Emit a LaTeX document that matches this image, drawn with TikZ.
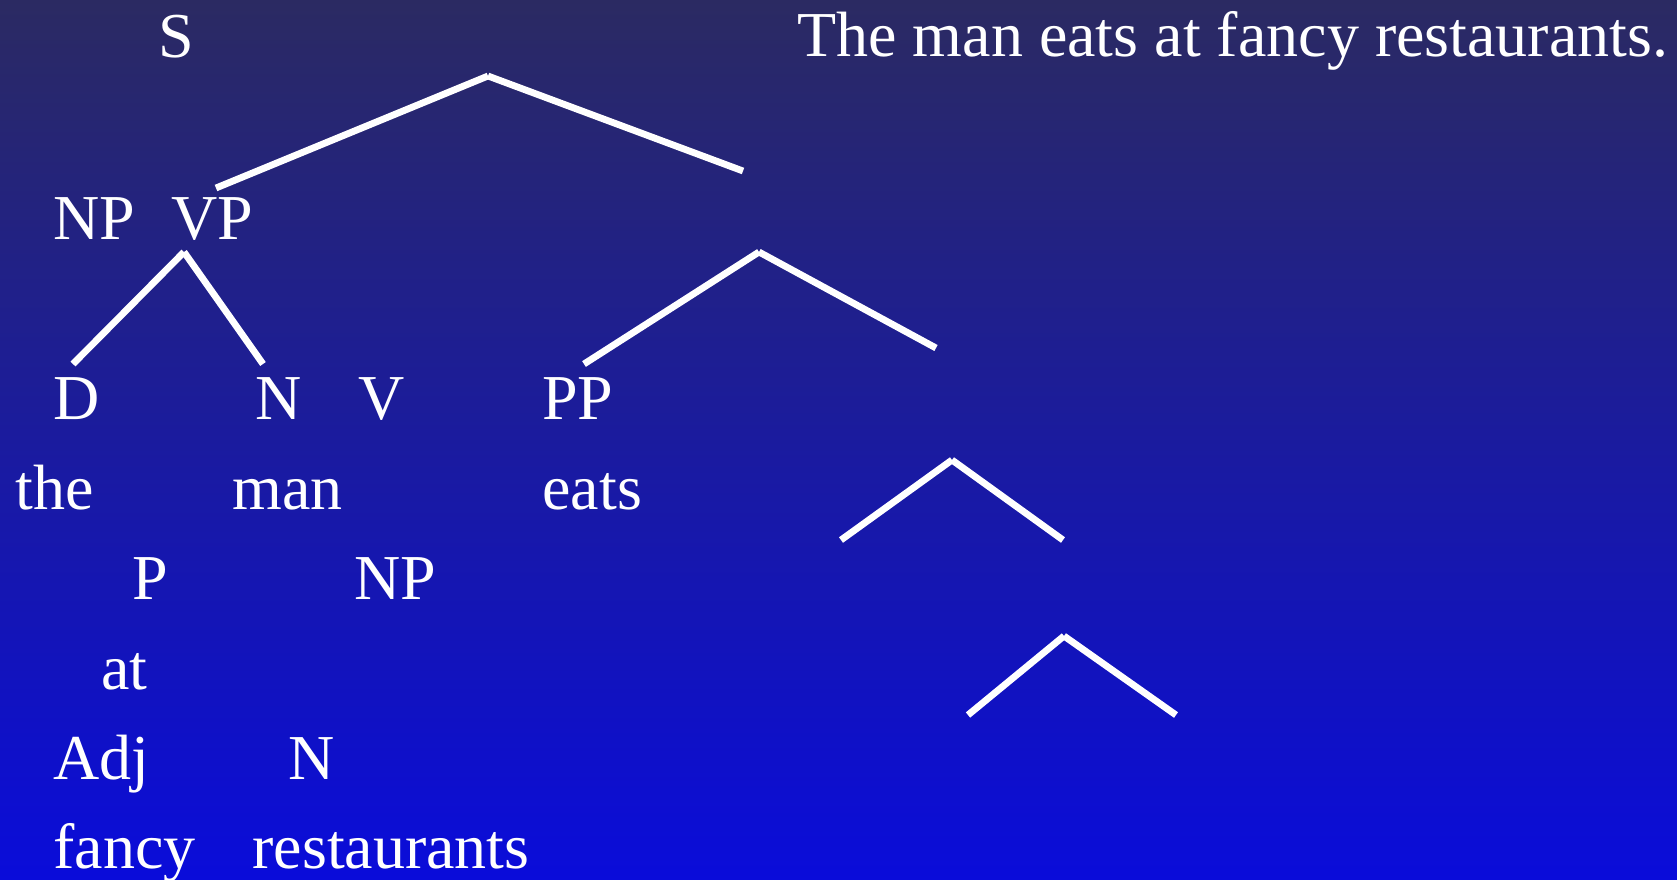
\documentclass[tikz,border=0pt]{standalone}
\usepackage{fontspec}
\setmainfont{Liberation Serif}
\definecolor{slidetop}{RGB}{43,42,98}
\definecolor{slidebot}{RGB}{10,12,218}

\begin{document}
\begin{tikzpicture}[x=0.5pt,y=-0.5pt,
  lbl/.style={anchor=base west,inner sep=0pt,text=white,font=\fontsize{32}{36}\selectfont},
  branch/.style={draw=white,line width=3.4pt,line cap=butt}]
  \fill[top color=slidetop,bottom color=slidebot] (0,0) rectangle (1677,879);
  \useasboundingbox (0,0) rectangle (1677,879);

  \node[lbl] (s) at (158,57) {S};
  \node[lbl] (title) at (797,56) {The man eats at fancy restaurants.};
  \node[lbl] (np) at (53,239) {NP};
  \node[lbl] (vp) at (171,239) {VP};
  \node[lbl] (d) at (53,419) {D};
  \node[lbl] (n1) at (255,419) {N};
  \node[lbl] (v) at (358,419) {V};
  \node[lbl] (pp) at (542,419) {PP};
  \node[lbl] (the) at (15,509) {the};
  \node[lbl] (man) at (232,509) {man};
  \node[lbl] (eats) at (542,509) {eats};
  \node[lbl] (p) at (132,599) {P};
  \node[lbl] (np2) at (354,599) {NP};
  \node[lbl] (at) at (101,689) {at};
  \node[lbl] (adj) at (53,779) {Adj};
  \node[lbl] (n2) at (288,779) {N};
  \node[lbl] (fancy) at (53,868) {fancy};
  \node[lbl] (rest) at (252,868) {restaurants};

  \coordinate (s-top) at (488,76);
  \coordinate (s-l) at (216,188);
  \coordinate (s-r) at (743,171);
  \coordinate (np-top) at (184,252);
  \coordinate (np-l) at (73,364);
  \coordinate (np-r) at (263,364);
  \coordinate (vp-top) at (759,252);
  \coordinate (vp-l) at (584,364);
  \coordinate (vp-r) at (936,348);
  \coordinate (pp-top) at (952,460);
  \coordinate (pp-l) at (841,540);
  \coordinate (pp-r) at (1063,540);
  \coordinate (np2-top) at (1064,636);
  \coordinate (np2-l) at (968,715);
  \coordinate (np2-r) at (1176,715);

  \foreach \t in {s,np,vp,pp,np2}{
    \draw[branch] (\t-top) -- (\t-l);
    \draw[branch] (\t-top) -- (\t-r);
  }
\end{tikzpicture}
\end{document}
